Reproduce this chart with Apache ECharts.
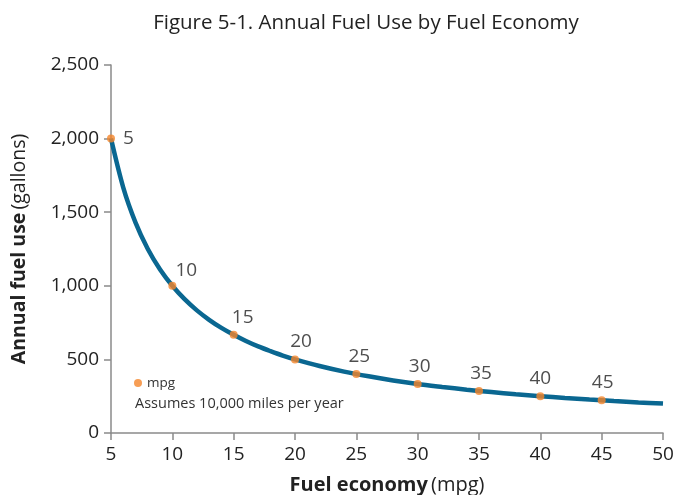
<!DOCTYPE html>
<html>
<head>
<meta charset="utf-8">
<script src="https://cdn.jsdelivr.net/npm/echarts@6/dist/echarts.min.js"></script>
<style>
  html, body { margin: 0; padding: 0; background: #fff; }
  #main { width: 674px; height: 495px; }
</style>
</head>
<body>
<div id="main"></div>
<script>
// curve: mpg -> gallons per year
const curveMpg = [5, 6, 7, 8, 9, 10, 11, 12, 13, 14, 15, 16, 17, 18, 19, 20, 22, 24, 26, 28, 30, 32, 34, 36, 38, 40, 42, 44, 46, 48, 50];
const curveGallons = [2000, 1667, 1429, 1250, 1111, 1000, 909, 833, 769, 714, 667, 625, 588, 556, 526, 500, 455, 417, 385, 357, 333, 313, 294, 278, 263, 250, 238, 227, 217, 208, 200];

// labelled points
const pointMpg = [5, 10, 15, 20, 25, 30, 35, 40, 45];
const pointGallons = [2000, 1000, 667, 500, 400, 333, 286, 250, 222];

// tick labels
const xTicks = [5, 10, 15, 20, 25, 30, 35, 40, 45, 50];
const yTicks = [0, 500, 1000, 1500, 2000, 2500];

const FONT = '"Open Sans", sans-serif';
const axisGray = '#8a8a8a';
const lineBlue = '#0a6791';
const dotOrange = '#f5862a';

const chartDom = document.getElementById('main');
const myChart = echarts.init(chartDom);

// label placement nudges (first ones sit right of the steep part)
const labelNudge = [[0, 0], [14, 2], [9, 0], [6, 0], [3, 0], [2, 0], [2, 0], [0, 0], [1, 0]];

const option = {
    backgroundColor: '#fff',
    animation: false,
    textStyle: { fontFamily: FONT },
    title: {
        text: 'Figure 5-1. Annual Fuel Use by Fuel Economy',
        left: 361,
        top: 8,
        textAlign: 'center',
        textStyle: { fontFamily: FONT, fontSize: 20.5, fontWeight: 'normal', color: '#222' }
    },
    legend: {
        left: 129,
        top: 371,
        data: ['mpg'],
        icon: 'circle',
        itemWidth: 8,
        itemHeight: 8,
        itemGap: 4,
        textStyle: { fontFamily: FONT, fontSize: 13.5, color: '#333' }
    },
    graphic: [{
        type: 'text',
        left: 135,
        top: 396,
        style: { text: 'Assumes 10,000 miles per year', font: '14.5px "Open Sans", sans-serif', fill: '#333' }
    }],
    grid: { left: 111, right: 11, top: 65, bottom: 62, outerBoundsMode: 'none', containLabel: false },
    xAxis: {
        type: 'value',
        min: xTicks[0],
        max: xTicks[xTicks.length - 1],
        interval: 5,
        name: '{b|Fuel economy} {n|(mpg)}',
        nameLocation: 'middle',
        nameGap: 42,
        nameTextStyle: {
            rich: {
                b: { fontFamily: FONT, fontSize: 20, fontWeight: 'bold', color: '#222' },
                n: { fontFamily: FONT, fontSize: 20, color: '#222' }
            }
        },
        axisLine: { lineStyle: { color: axisGray, width: 1.5 } },
        axisTick: { length: 7, lineStyle: { color: axisGray, width: 1.5 } },
        axisLabel: { fontSize: 19, color: '#222', margin: 12 },
        splitLine: { show: false }
    },
    yAxis: {
        type: 'value',
        min: yTicks[0],
        max: yTicks[yTicks.length - 1],
        interval: 500,
        name: '{b|Annual fuel use} {n|(gallons)}',
        nameLocation: 'middle',
        nameGap: 82,
        nameTextStyle: {
            rich: {
                b: { fontFamily: FONT, fontSize: 19.5, fontWeight: 'bold', color: '#222' },
                n: { fontFamily: FONT, fontSize: 19.5, color: '#222' }
            }
        },
        axisLine: { show: true, lineStyle: { color: axisGray, width: 1.5 } },
        axisTick: { show: true, length: 7, lineStyle: { color: axisGray, width: 1.5 } },
        axisLabel: {
            fontSize: 19, color: '#222', margin: 12,
            formatter: v => v.toLocaleString('en-US')
        },
        splitLine: { show: false }
    },
    series: [
        {
            name: 'curve',
            type: 'line',
            smooth: 0.3,
            showSymbol: false,
            data: curveMpg.map((m, i) => [m, curveGallons[i]]),
            lineStyle: { color: lineBlue, width: 4.5 },
            z: 2
        },
        {
            name: 'mpg',
            type: 'scatter',
            symbolSize: 8,
            itemStyle: { color: dotOrange },
            data: pointMpg.map((m, i) => ({
                value: [m, pointGallons[i]],
                label: i === 0
                    ? { position: 'right', distance: 8 }
                    : { position: 'top', distance: 4, offset: labelNudge[i] }
            })),
            label: {
                show: true,
                fontFamily: FONT,
                fontSize: 19,
                color: '#222',
                formatter: p => String(p.value[0])
            },
            z: 3
        }
    ]
};

myChart.setOption(option);
</script>
</body>
</html>
